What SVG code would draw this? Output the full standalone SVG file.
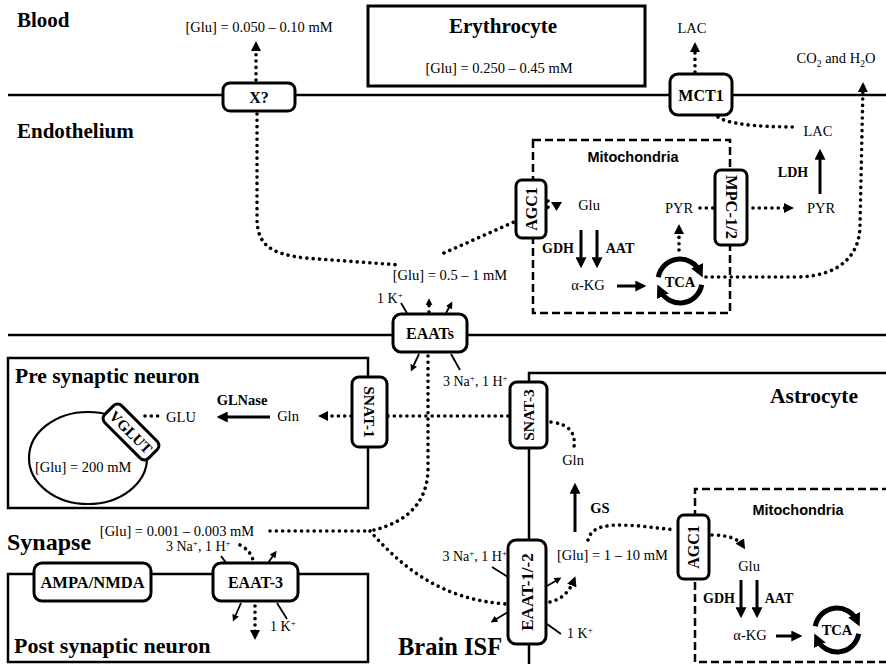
<svg xmlns="http://www.w3.org/2000/svg" width="886" height="664" viewBox="0 0 886 664">
<style>
.t{font-family:"Liberation Serif","Times New Roman",serif;fill:#000;font-size:14.5px}
.b{font-weight:bold}
.s{font-family:"Liberation Sans",Arial,sans-serif;font-weight:bold;font-size:14.5px}
.sm{font-size:14px}
.box{fill:#fff;stroke:#000;stroke-width:3}
.cell{fill:none;stroke:#000;stroke-width:2.5}
.mem{fill:none;stroke:#000;stroke-width:2.5}
.dot{fill:none;stroke:#000;stroke-width:3.6;stroke-dasharray:0.01 6.3;stroke-linecap:round}
.dash{fill:none;stroke:#000;stroke-width:2.5;stroke-dasharray:8 4}
.arr{fill:none;stroke:#000;stroke-width:3}
.thin{fill:none;stroke:#000;stroke-width:1.8}
.tca{fill:none;stroke:#000;stroke-width:5}
</style>
<defs>
<marker id="ah" viewBox="0 0 10 10" refX="7" refY="5" markerWidth="11" markerHeight="11" markerUnits="userSpaceOnUse" orient="auto"><path d="M0,0 L10,5 L0,10 z"/></marker>
<marker id="ad" viewBox="0 0 10 10" refX="6" refY="5" markerWidth="10" markerHeight="10" markerUnits="userSpaceOnUse" orient="auto"><path d="M0,0 L10,5 L0,10 z"/></marker>
<marker id="as" viewBox="0 0 10 10" refX="6" refY="5" markerWidth="7" markerHeight="7" markerUnits="userSpaceOnUse" orient="auto"><path d="M0,0 L10,5 L0,10 z"/></marker>
<marker id="at" viewBox="0 0 10 10" refX="5" refY="5" markerWidth="13" markerHeight="13" markerUnits="userSpaceOnUse" orient="auto"><path d="M0,0 L10,5 L0,10 z"/></marker>
</defs>
<rect width="886" height="664" fill="#fff"/>

<g id="membranes">
<path class="mem" d="M8,95 H886"/>
<path class="mem" d="M8,335 H886"/>
</g>

<g id="labels">
<text class="t b" x="17" y="27" style="font-size:21px">Blood</text>
<text class="t b" x="17" y="138" style="font-size:21px">Endothelium</text>
<text class="t" x="259" y="32" text-anchor="middle">[Glu] = 0.050 – 0.10 mM</text>
<text class="t" x="692" y="33" text-anchor="middle">LAC</text>
<text class="t" x="836" y="63" text-anchor="middle">CO<tspan dy="4" font-size="9.5">2</tspan><tspan dy="-4"> and H</tspan><tspan dy="4" font-size="9.5">2</tspan><tspan dy="-4">O</tspan></text>
<text class="t" x="818" y="136" text-anchor="middle">LAC</text>
<text class="t b" x="793" y="177" text-anchor="middle" style="font-size:14px">LDH</text>
<text class="t" x="821" y="213" text-anchor="middle">PYR</text>
<text class="t" x="450" y="280" text-anchor="middle">[Glu] = 0.5 – 1 mM</text>
<text class="t sm" x="377" y="303">1 K<tspan dy="-5" font-size="9">+</tspan></text>
<text class="t sm" x="443" y="386">3 Na<tspan dy="-5" font-size="9">+</tspan><tspan dy="5">, 1 H</tspan><tspan dy="-5" font-size="9">+</tspan></text>
<text class="t b" x="7" y="550" style="font-size:24px">Synapse</text>
<text class="t" x="177" y="536" text-anchor="middle">[Glu] = 0.001 – 0.003 mM</text>
<text class="t sm" x="166" y="551">3 Na<tspan dy="-5" font-size="9">+</tspan><tspan dy="5">, 1 H</tspan><tspan dy="-5" font-size="9">+</tspan></text>
<text class="t sm" x="270" y="631">1 K<tspan dy="-5" font-size="9">+</tspan></text>
<text class="t b" x="398" y="655" style="font-size:24.5px">Brain ISF</text>
<text class="t sm" x="507" y="561" text-anchor="end">3 Na<tspan dy="-5" font-size="9">+</tspan><tspan dy="5">, 1 H</tspan><tspan dy="-5" font-size="9">+</tspan></text>
<text class="t sm" x="567" y="638">1 K<tspan dy="-5" font-size="9">+</tspan></text>
</g>

<g id="erythrocyte">
<rect x="368" y="6" width="277" height="80" class="box"/>
<text class="t b" x="503" y="33" text-anchor="middle" style="font-size:21px">Erythrocyte</text>
<text class="t" x="499" y="73" text-anchor="middle">[Glu] = 0.250 – 0.45 mM</text>
</g>

<g id="mito-endo">
<rect x="533" y="140" width="197" height="173" class="dash"/>
<text class="s" x="633" y="162" text-anchor="middle">Mitochondria</text>
<text class="t" x="589" y="210" text-anchor="middle">Glu</text>
<text class="t b" x="558" y="253" text-anchor="middle" style="font-size:14px">GDH</text>
<text class="t b" x="620" y="253" text-anchor="middle" style="font-size:14px">AAT</text>
<text class="t" x="588" y="290" text-anchor="middle">α-KG</text>
<text class="t" x="679" y="213" text-anchor="middle">PYR</text>
</g>

<g id="tca-endo">
<path class="tca" d="M658.3,277.2 A22,22 0 0 1 699.9,271.7" marker-end="url(#at)"/>
<path class="tca" d="M701.7,284.8 A22,22 0 0 1 660.1,290.3" marker-end="url(#at)"/>
<text class="t b" x="680" y="287" text-anchor="middle" style="font-size:14.5px">TCA</text>
</g>

<g id="presynaptic">
<path class="cell" d="M368,377 V358 H8 V508 H368 V447"/>
<text class="t b" x="15" y="383" style="font-size:21.5px">Pre synaptic neuron</text>
<text class="t b" x="242" y="405" text-anchor="middle">GLNase</text>
<text class="t" x="181" y="422" text-anchor="middle">GLU</text>
<text class="t" x="288" y="421" text-anchor="middle">Gln</text>
<ellipse cx="88" cy="458" rx="59" ry="46" fill="none" stroke="#000" stroke-width="2.2"/>
<text class="t" x="35" y="472">[Glu] = 200 mM</text>
</g>

<g id="vglut">
<rect x="100" y="420" width="62" height="24" rx="6" class="box" transform="rotate(45 131 432)"/>
<text class="t b" x="131" y="437.5" text-anchor="middle" style="font-size:15px" transform="rotate(45 131 432)">VGLUT</text>
</g>

<g id="postsynaptic">
<path class="cell" d="M8,574 H368 V662 H8 Z"/>
<text class="t b" x="14" y="653" style="font-size:22px">Post synaptic neuron</text>
</g>

<g id="astrocyte">
<path class="cell" d="M886,373 H529 V664"/>
<text class="t b" x="770" y="403" style="font-size:21.5px">Astrocyte</text>
<text class="t" x="573" y="465" text-anchor="middle">Gln</text>
<text class="t b" x="600" y="513" text-anchor="middle">GS</text>
<text class="t" x="557" y="560">[Glu] = 1 – 10 mM</text>
</g>

<g id="mito-astro">
<path class="dash" d="M890,489 H695 V662 H890"/>
<text class="s" x="798" y="515" text-anchor="middle">Mitochondria</text>
<text class="t" x="749" y="571" text-anchor="middle">Glu</text>
<text class="t b" x="719" y="603" text-anchor="middle" style="font-size:14px">GDH</text>
<text class="t b" x="779" y="603" text-anchor="middle" style="font-size:14px">AAT</text>
<text class="t" x="750" y="640" text-anchor="middle">α-KG</text>
</g>

<g id="tca-astro">
<path class="tca" d="M815.3,626.2 A22,22 0 0 1 856.9,620.7" marker-end="url(#at)"/>
<path class="tca" d="M858.7,633.8 A22,22 0 0 1 817.1,639.3" marker-end="url(#at)"/>
<text class="t b" x="837" y="635" text-anchor="middle" style="font-size:14.5px">TCA</text>
</g>

<g id="connectors">
<path class="dot" d="M256,80 V45" marker-end="url(#ad)"/>
<path class="dot" d="M257,114 V218 C257,246 272,254 305,258 L400,265"/>
<path class="dot" d="M444,253 L514,222"/>
<path class="dot" d="M695,72 V46" marker-end="url(#ad)"/>
<path class="dot" d="M718,117 Q732,127 798,127"/>
<path class="dot" d="M706,277 H795 C840,277 860,255 860,225 L863,86" marker-end="url(#ad)"/>
<path class="dot" d="M548,201 V210"/>
<path d="M551,202 L562,202 L556.5,211 Z"/>
<path class="arr" d="M581,230 V265" marker-end="url(#ah)"/>
<path class="arr" d="M597,230 V265" marker-end="url(#ah)"/>
<path class="arr" d="M617,286 H643" marker-end="url(#ah)"/>
<path class="dot" d="M679,250 V228" marker-end="url(#ad)"/>
<path class="dot" d="M700,208 H713"/>
<path class="dot" d="M753,208 H790" marker-end="url(#ad)"/>
<path class="arr" d="M820,194 V152" marker-end="url(#ah)"/>
<path class="thin" d="M401,303 L407,313"/>
<path class="dot" d="M429,312 V301" marker-end="url(#as)"/>
<path class="thin" d="M446,313 L451,304" marker-end="url(#as)"/>
<path class="thin" d="M419,354 L412,369" marker-end="url(#as)"/>
<path class="thin" d="M451,354 L460,370"/>
<path class="dot" d="M428,356 V468 C428,500 410,522 370,531"/>
<path class="dot" d="M270,531 H370"/>
<path class="dot" d="M370,531 C400,565 440,600 507,604"/>
<path class="dot" d="M388,416 H510"/>
<path class="dot" d="M351,416 H322" marker-end="url(#ad)"/>
<path class="arr" d="M270,417 H220" marker-end="url(#ah)"/>
<path class="dot" d="M145,416 H163"/>
<path class="dot" d="M551,422 Q577,425 574,447"/>
<path class="arr" d="M575,532 V486" marker-end="url(#ah)"/>
<path class="dot" d="M588,540 C592,524 612,524 640,526 L676,530"/>
<path class="dot" d="M712,535 Q736,535 743,546" marker-end="url(#ad)"/>
<path class="arr" d="M741,580 V615" marker-end="url(#ah)"/>
<path class="arr" d="M757,580 V615" marker-end="url(#ah)"/>
<path class="arr" d="M776,636 H799" marker-end="url(#ah)"/>
<path class="thin" d="M492,567 L508,577"/>
<path class="thin" d="M547,586 L559,579" marker-end="url(#as)"/>
<path class="dot" d="M550,602 Q567,598 574,580" marker-end="url(#ad)"/>
<path class="thin" d="M508,612 L493,621" marker-end="url(#as)"/>
<path class="thin" d="M547,624 L561,634"/>
<path class="thin" d="M221,556 L227,564"/>
<path class="dot" d="M240,545 Q250,550 253,560"/>
<path class="thin" d="M268,563 L275,553" marker-end="url(#as)"/>
<path class="thin" d="M241,603 L234,619" marker-end="url(#as)"/>
<path class="dot" d="M255,606 V636" marker-end="url(#ad)"/>
<path class="thin" d="M277,603 L287,619"/>
</g>

<g id="X">
<rect x="223" y="83" width="72" height="28" rx="7" class="box"/>
<text class="t b" x="259" y="103" text-anchor="middle" style="font-size:16px">X?</text>
</g>
<g id="MCT1">
<rect x="670" y="74" width="62" height="41" rx="8" class="box"/>
<text class="t b" x="701" y="101" text-anchor="middle" style="font-size:16px">MCT1</text>
</g>
<g id="AGC1-endo">
<rect x="516" y="180" width="30" height="58" rx="6" class="box"/>
<text class="t b" x="531" y="214.5" text-anchor="middle" style="font-size:16px" transform="rotate(-90 531 209)">AGC1</text>
</g>
<g id="MPC">
<rect x="715" y="170" width="32" height="75" rx="6" class="box"/>
<text class="t b" x="731" y="212.5" text-anchor="middle" style="font-size:16.5px" transform="rotate(90 731 207)">MPC-1/2</text>
</g>
<g id="EAATs">
<rect x="393" y="314" width="74" height="38" rx="8" class="box"/>
<text class="t b" x="430" y="339" text-anchor="middle" style="font-size:16px">EAATs</text>
</g>
<g id="SNAT1">
<rect x="352" y="377" width="35" height="70" rx="7" class="box"/>
<text class="t b" x="369.5" y="417.5" text-anchor="middle" style="font-size:15.5px" transform="rotate(90 369.5 412)">SNAT-1</text>
</g>
<g id="SNAT3">
<rect x="510" y="382" width="37" height="66" rx="7" class="box"/>
<text class="t b" x="528.5" y="420.5" text-anchor="middle" style="font-size:15.5px" transform="rotate(-90 528.5 415)">SNAT-3</text>
</g>
<g id="EAAT12">
<rect x="508" y="540" width="38" height="104" rx="8" class="box"/>
<text class="t b" x="527" y="597.5" text-anchor="middle" style="font-size:17px" transform="rotate(-90 527 592)">EAAT-1/-2</text>
</g>
<g id="AGC1-astro">
<rect x="678" y="515" width="31" height="64" rx="6" class="box"/>
<text class="t b" x="693.5" y="552.5" text-anchor="middle" style="font-size:16px" transform="rotate(-90 693.5 547)">AGC1</text>
</g>
<g id="AMPA">
<rect x="34" y="563" width="117" height="38" rx="8" class="box"/>
<text class="t b" x="92.5" y="588" text-anchor="middle" style="font-size:16.5px">AMPA/NMDA</text>
</g>
<g id="EAAT3">
<rect x="213" y="563" width="85" height="38" rx="8" class="box"/>
<text class="t b" x="255.5" y="588" text-anchor="middle" style="font-size:16px">EAAT-3</text>
</g>
</svg>
